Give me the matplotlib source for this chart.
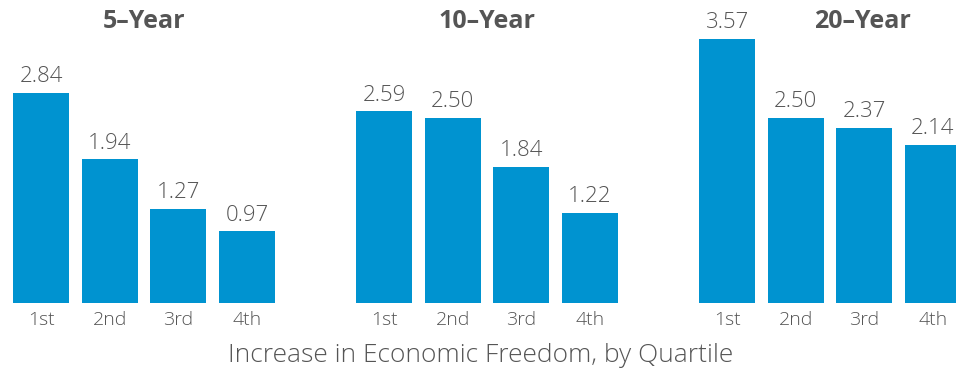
import matplotlib
matplotlib.use("Agg")
import matplotlib.pyplot as plt

plt.rcParams['font.family'] = ['Open Sans', 'DejaVu Sans']

quartiles = ["1st", "2nd", "3rd", "4th"]
periods = ["5\u2013Year", "10\u2013Year", "20\u2013Year"]
values_5 = [2.84, 1.94, 1.27, 0.97]
values_10 = [2.59, 2.50, 1.84, 1.22]
values_20 = [3.57, 2.50, 2.37, 2.14]
series = [values_5, values_10, values_20]
xlabel = "Increase in Economic Freedom, by Quartile"

BAR = "#0093D0"
TXT = "#555555"
W, H = 956, 368
fig = plt.figure(figsize=(W / 100, H / 100), dpi=100)

lefts = [13, 356, 699]
axw = 262
bottom = 65
axh = 296
title_cx = [144, 487, 862]

for i, (vals, title) in enumerate(zip(series, periods)):
    ax = fig.add_axes([lefts[i] / W, bottom / H, axw / W, axh / H])
    x = list(range(len(quartiles)))
    bars = ax.bar(x, vals, width=0.815, color=BAR)
    ax.set_xlim(-0.41, 3.41)
    ax.set_ylim(0, 4)
    for b, v in zip(bars, vals):
        ax.annotate(f"{v:.2f}", (b.get_x() + b.get_width() / 2, v),
                    xytext=(0, 4), textcoords="offset points",
                    ha="center", va="bottom", fontsize=16, color=TXT,
                    fontweight="light")
    ax.set_xticks(x)
    ax.set_xticklabels(quartiles, fontsize=14, color=TXT, fontweight="light")
    ax.tick_params(axis="x", length=0, pad=6)
    ax.set_yticks([])
    for s in ax.spines.values():
        s.set_visible(False)
    fig.text(title_cx[i] / W, (H - 21) / H, title, ha="center", va="center",
             fontsize=18, fontweight="bold", color=TXT)

fig.text(481 / W, 13 / H, xlabel, ha="center", va="center", fontsize=19,
         color=TXT, fontweight="light")
fig.savefig("out.png", dpi=100)
